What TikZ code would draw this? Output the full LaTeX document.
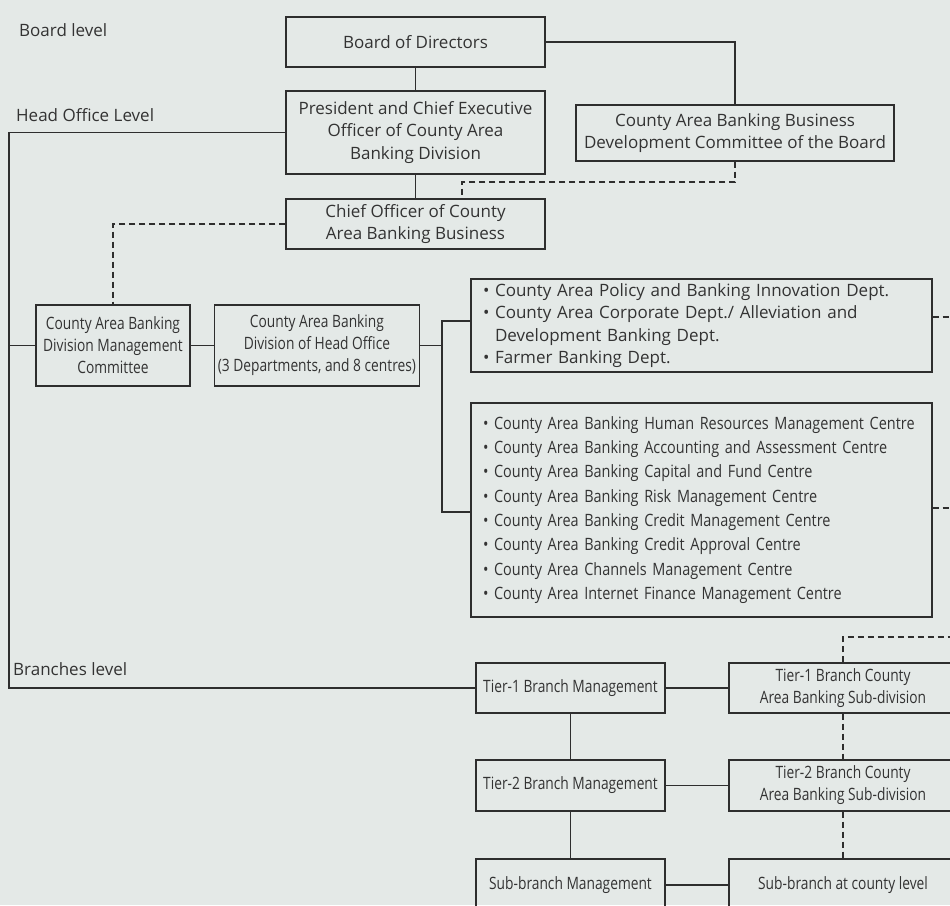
\documentclass[tikz,border=0pt]{standalone}
\usepackage{fontspec}
\setmainfont{Open Sans}
\newfontfamily\condfont[FakeStretch=0.81]{Open Sans}
\newfontfamily\semicondfont[FakeStretch=0.85]{Open Sans}
\usetikzlibrary{positioning, calc}
\definecolor{chartBg}{HTML}{E4E9E7}
\definecolor{chartInk}{HTML}{2E2E2E}
\definecolor{chartText}{HTML}{333333}
\newcommand{\itemdot}{\textbullet\ }

\tikzset{
  orgbox/.style={draw=chartInk, line width=1.4pt, inner sep=0pt, align=center, text=chartText},
  bodytext/.style={font=\fontsize{17}{22.5}\selectfont},
  condtext/.style={font=\condfont\fontsize{17}{22}\selectfont},
  link/.style={draw=chartInk, line width=1.4pt},
  dlink/.style={link, dash pattern=on 6pt off 4pt},
  levellabel/.style={anchor=base west, inner sep=0pt, text=chartText, font=\fontsize{17}{22}\selectfont},
}

\begin{document}
\begin{tikzpicture}[x=1pt, y=-1pt]
\useasboundingbox (0,0) rectangle (950,905);
\clip (0,0) rectangle (950,905);
\fill[chartBg] (0,0) rectangle (950,905);

% level labels
\node[levellabel] (lvlboard) at (19,36) {Board level};
\node[levellabel] (lvlhead) at (16,121) {Head Office Level};
\node[levellabel] (lvlbranch) at (13,675) {Branches level};

% board and head office
\node[orgbox, bodytext, minimum width=259pt, minimum height=50pt] (board) at (415.5,42)
  {Board of Directors};
\node[orgbox, bodytext, minimum width=259pt, minimum height=83pt] (pres) at (415.5,132.5)
  {President and Chief Executive\\Officer of County Area\\Banking Division};
\node[orgbox, bodytext, minimum width=259pt, minimum height=50pt] (chief) at (415.5,224)
  {Chief Officer of County\\Area Banking Business};
\node[orgbox, bodytext, minimum width=318pt, minimum height=56pt] (devcom) at (735,133)
  {County Area Banking Business\\Development Committee of the Board};

\node[orgbox, condtext, minimum width=154pt, minimum height=81pt] (mgmtcom) at (113,345.5)
  {County Area Banking\\Division Management\\Committee};
\node[orgbox, condtext, minimum width=205pt, minimum height=81pt,
      right=23pt of mgmtcom] (division)
  {County Area Banking\\Division of Head Office\\(3 Departments, and 8 centres)};

\node[orgbox, bodytext, align=left, inner xsep=12pt, text width=437pt, minimum height=93pt] (depts) at (701.5,325.5)
  {\itemdot County Area Policy and Banking Innovation Dept.\\
   \itemdot County Area Corporate Dept./ Alleviation and\\
   \hphantom{\itemdot}Development Banking Dept.\\
   \itemdot Farmer Banking Dept.};
\node[orgbox, align=left, inner xsep=12pt, text width=437pt, minimum height=214pt,
      font=\semicondfont\fontsize{17}{24.3}\selectfont] (centres) at (701.5,510)
  {\itemdot County Area Banking Human Resources Management Centre\\
   \itemdot County Area Banking Accounting and Assessment Centre\\
   \itemdot County Area Banking Capital and Fund Centre\\
   \itemdot County Area Banking Risk Management Centre\\
   \itemdot County Area Banking Credit Management Centre\\
   \itemdot County Area Banking Credit Approval Centre\\
   \itemdot County Area Channels Management Centre\\
   \itemdot County Area Internet Finance Management Centre};

% branches
\node[orgbox, condtext, minimum width=189pt, minimum height=50pt] (tier1) at (570.5,688)
  {Tier-1 Branch Management};
\node[orgbox, condtext, minimum width=189pt, minimum height=51pt] (tier2) at (570.5,785.5)
  {Tier-2 Branch Management};
\node[orgbox, condtext, minimum width=189pt, minimum height=52pt] (subbr) at (570.5,885)
  {Sub-branch Management};
\node[orgbox, condtext, minimum width=228pt, minimum height=50pt] (tier1c) at (843,688)
  {Tier-1 Branch County\\Area Banking Sub-division};
\node[orgbox, condtext, minimum width=228pt, minimum height=51pt] (tier2c) at (843,785.5)
  {Tier-2 Branch County\\Area Banking Sub-division};
\node[orgbox, condtext, minimum width=228pt, minimum height=52pt] (subc) at (843,885)
  {Sub-branch at county level};

% helper points
\coordinate (spinetop) at (9,132.5);
\coordinate (spinebot) at (9,688);
\coordinate (forktop) at (442,321);
\coordinate (forkbot) at (442,512);
\coordinate (dvbend) at (462,182);
\coordinate (rimA) at (960,317);
\coordinate (rimB) at (960,508);
\coordinate (rimC) at (960,637);

% solid links
\draw[link] (board.east) -| (devcom.north);
\draw[link] (board) -- (pres);
\draw[link] (pres) -- (chief);
\draw[link] (pres.west) -- (spinetop) -- (spinebot) -- (tier1.west);
\draw[link] (mgmtcom.west -| spinetop) -- (mgmtcom.west);
\draw[link] (mgmtcom) -- (division);
\draw[link] (division.east) -- (division.east -| forktop);
\draw[link] (depts.west |- forktop) -- (forktop) -- (forkbot) -- (centres.west |- forkbot);
\draw[link] (tier1) -- (tier2);
\draw[link] (tier2) -- (subbr);
\draw[link] (tier1) -- (tier1c);
\draw[link] (tier2) -- (tier2c);
\draw[link] (subbr) -- (subc);

% dashed links
\draw[dlink] (devcom.south) |- (dvbend) -- (dvbend |- chief.north);
\draw[dlink] (chief.west) -| (mgmtcom.north);
\draw[dlink] (depts.east |- rimA) -- (rimA);
\draw[dlink] (centres.east |- rimB) -- (rimB);
\draw[dlink] (tier1c.north) |- (rimC);
\draw[dlink] (tier1c) -- (tier2c);
\draw[dlink] (tier2c) -- (subc);
\end{tikzpicture}
\end{document}
